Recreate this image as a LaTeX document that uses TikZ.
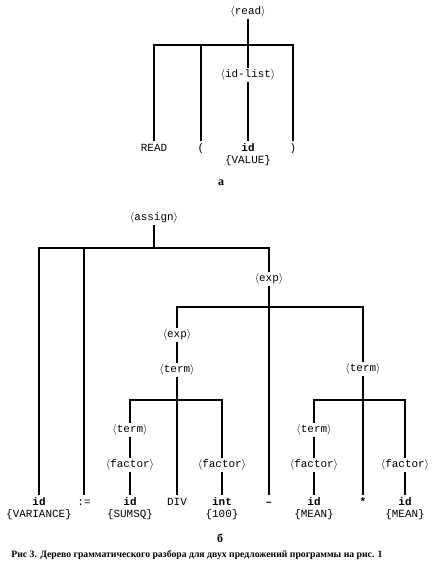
\documentclass[tikz,border=0pt]{standalone}
\usepackage{fontspec}
\setmonofont{Liberation Mono}
\newfontfamily\capfont{Liberation Serif}
\NewDocumentCommand{\nterm}{m}{$\langle$#1$\rangle$}

\begin{document}
\begin{tikzpicture}[x=0.75pt,y=-0.75pt,
    nt/.style={font=\ttfamily\fontsize{8.2}{9.4}\selectfont, inner sep=1.5pt},
    tm/.style={nt, anchor=north, align=center},
    edge/.style={line width=1.4pt, line cap=rect}]
\useasboundingbox (0,0) rectangle (441,570);

% tree a
\node[nt] (read) at (248,12) {\nterm{read}};
\coordinate (jRead) at (248,45);
\node[nt] (idlist) at (248,75) {\nterm{id-list}};
\node[tm] (tRead) at (154,140) {\strut READ};
\node[tm] (tLparen) at (201,140) {\strut (};
\node[tm] (tValue) at (248,140) {\strut\textbf{id}\\\{VALUE\}};
\node[tm] (tRparen) at (293,140) {\strut )};
\node[font=\capfont\bfseries\fontsize{9}{10}\selectfont] (capA) at (221,183) {а};

\draw[edge] (read.south) -- (idlist.north);
\draw[edge] (tRead.north) |- (jRead) -| (tRparen.north);
\draw[edge] (tLparen.north) |- (jRead);
\draw[edge] (idlist.south) -- (tValue.north);

% tree b
\node[nt] (assign) at (154,218) {\nterm{assign}};
\coordinate (jAssign) at (154,248);
\node[nt] (exp1) at (269,279) {\nterm{exp}};
\coordinate (jExp1) at (269,307);
\node[nt] (exp2) at (177,335) {\nterm{exp}};
\node[nt] (term1) at (363,369) {\nterm{term}};
\node[nt] (term2) at (177,370) {\nterm{term}};
\coordinate (jTerm2) at (177,400);
\coordinate (jTerm1) at (363,400);
\node[nt] (term3) at (130,430) {\nterm{term}};
\node[nt] (term4) at (314,430) {\nterm{term}};
\node[nt] (factor1) at (222,465) {\nterm{factor}};
\node[nt] (factor2) at (130,465) {\nterm{factor}};
\node[nt] (factor3) at (405,465) {\nterm{factor}};
\node[nt] (factor4) at (314,465) {\nterm{factor}};

\node[tm] (tVar) at (39,494) {\strut\textbf{id}\\\{VARIANCE\}};
\node[tm] (tAssgn) at (84,494) {\strut :=};
\node[tm] (tSumsq) at (130,494) {\strut\textbf{id}\\\{SUMSQ\}};
\node[tm] (tDiv) at (177,494) {\strut DIV};
\node[tm] (tInt) at (222,494) {\strut\textbf{int}\\\{100\}};
\node[tm] (tMinus) at (269,494) {\strut\textbf{–}};
\node[tm] (tMean) at (314,494) {\strut\textbf{id}\\\{MEAN\}};
\node[tm] (tStar) at (363,494) {\strut\textbf{*}};
\node[tm] (tMean2) at (405,494) {\strut\textbf{id}\\\{MEAN\}};
\node[font=\capfont\bfseries\fontsize{9}{10}\selectfont] (capB) at (220,538) {б};

\draw[edge] (assign.south) -- (jAssign);
\draw[edge] (tVar.north) |- (jAssign) -| (exp1.north);
\draw[edge] (tAssgn.north) |- (jAssign);
\draw[edge] (exp1.south) -- (tMinus.north);
\draw[edge] (exp2.north) |- (jExp1) -| (term1.north);
\draw[edge] (exp2.south) -- (term2.north);
\draw[edge] (term2.south) -- (tDiv.north);
\draw[edge] (term3.north) |- (jTerm2) -| (factor1.north);
\draw[edge] (term3.south) -- (factor2.north);
\draw[edge] (factor2.south) -- (tSumsq.north);
\draw[edge] (factor1.south) -- (tInt.north);
\draw[edge] (term1.south) -- (tStar.north);
\draw[edge] (term4.north) |- (jTerm1) -| (factor3.north);
\draw[edge] (term4.south) -- (factor4.north);
\draw[edge] (factor4.south) -- (tMean.north);
\draw[edge] (factor3.south) -- (tMean2.north);

\node[font=\capfont\bfseries\fontsize{7.3}{9}\selectfont] (caption) at (197,555)
  {Рис 3. Дерево грамматического разбора для двух предложений программы на рис. 1};
\end{tikzpicture}
\end{document}
